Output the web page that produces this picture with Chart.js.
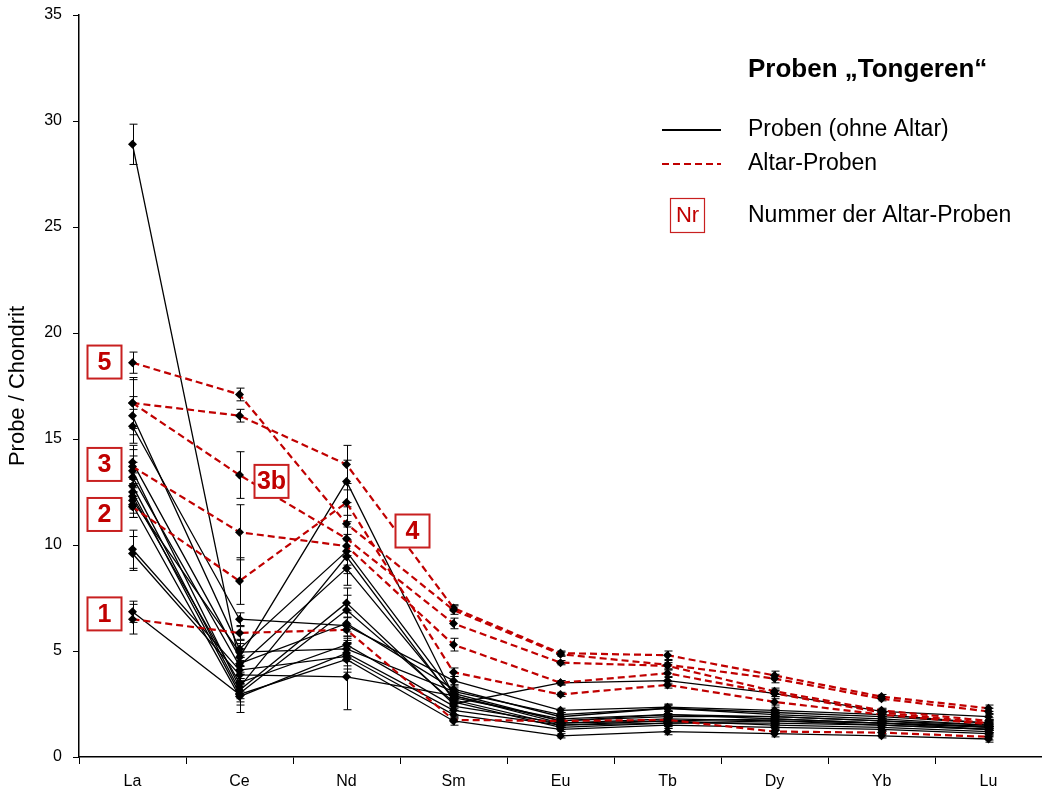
<!DOCTYPE html>
<html>
<head>
<meta charset="utf-8">
<title>Proben „Tongeren“</title>
<script src="https://cdn.jsdelivr.net/npm/chart.js@4.4.1/dist/chart.umd.min.js"></script>
<style>
  html, body { margin: 0; padding: 0; background: #fff; }
  #wrap { width: 1042px; height: 793px; }
</style>
</head>
<body>
<div id="wrap"><canvas id="ree" width="1042" height="793"></canvas></div>
<script>
// Rare-earth elements, chondrite-normalised
const elements = ['La', 'Ce', 'Nd', 'Sm', 'Eu', 'Tb', 'Dy', 'Yb', 'Lu'];
const yTicks = [0, 5, 10, 15, 20, 25, 30, 35];

// Altar samples (red, dashed) with their measurement uncertainty
const altar5   = [18.6, 17.1, 11.0, 6.93, 4.85, 4.35, 3.70, 2.75, 2.15];
const altar5E  = [0.5, 0.3, 0.8, 0.2, 0.1, 0.2, 0.2, 0.1, 0.15];
const altar4   = [16.7, 16.1, 13.8, 7.03, 4.90, 4.80, 3.85, 2.85, 2.30];
const altar4E  = [1.2, 0.3, 0.9, 0.15, 0.1, 0.2, 0.2, 0.1, 0.15];
const altar3b  = [16.7, 13.3, 10.3, 6.30, 4.45, 4.30, 3.10, 2.20, 1.70];
const altar3bE = [1.1, 1.1, 0.8, 0.25, 0.1, 0.15, 0.15, 0.1, 0.15];
const altar3   = [13.7, 10.6, 9.95, 5.30, 3.50, 3.95, 3.00, 2.10, 1.60];
const altar3E  = [0.8, 1.3, 0.9, 0.3, 0.1, 0.15, 0.15, 0.1, 0.15];
const altar2   = [11.8, 8.3, 12.0, 4.00, 2.95, 3.40, 2.60, 2.00, 1.55];
const altar2E  = [0.5, 1.1, 0.6, 0.2, 0.1, 0.15, 0.15, 0.1, 0.15];
const altar1   = [6.5, 5.85, 6.0, 1.75, 1.70, 1.75, 1.20, 1.15, 0.95];
const altar1E  = [0.7, 0.3, 0.6, 0.1, 0.1, 0.1, 0.1, 0.1, 0.15];

// Other samples (black, solid) with their measurement uncertainty
const probe01  = [28.9, 4.4, 6.3, 3.2, 1.9, 2.3, 2.0, 1.8, 1.5];
const probe01E = [0.95, 0.4, 0.6, 0.2, 0.1, 0.15, 0.15, 0.1, 0.15];
const probe02  = [16.1, 5.1, 9.7, 3.0, 1.7, 1.9, 1.9, 1.7, 1.4];
const probe02E = [0.9, 0.4, 0.8, 0.2, 0.1, 0.15, 0.15, 0.1, 0.15];
const probe03  = [15.6, 6.5, 6.2, 3.6, 2.2, 2.35, 2.2, 2.0, 1.6];
const probe03E = [0.8, 0.3, 0.6, 0.2, 0.1, 0.15, 0.15, 0.1, 0.15];
const probe04  = [13.9, 4.7, 13.0, 2.9, 1.6, 1.8, 1.7, 1.6, 1.4];
const probe04E = [0.8, 0.4, 1.0, 0.2, 0.1, 0.15, 0.15, 0.1, 0.15];
const probe05  = [13.5, 3.3, 9.45, 2.7, 1.5, 1.7, 1.8, 1.6, 1.3];
const probe05E = [0.7, 0.4, 0.8, 0.2, 0.1, 0.15, 0.15, 0.1, 0.15];
const probe06  = [13.2, 4.3, 8.9, 2.8, 1.8, 2.0, 1.9, 1.7, 1.5];
const probe06E = [0.7, 0.4, 0.8, 0.2, 0.1, 0.15, 0.15, 0.1, 0.15];
const probe07  = [12.8, 3.15, 7.27, 2.5, 3.5, 3.6, 3.0, 2.15, 1.9];
const probe07E = [0.6, 0.4, 0.7, 0.2, 0.1, 0.15, 0.15, 0.1, 0.15];
const probe08  = [12.5, 3.0, 6.93, 2.6, 1.4, 1.6, 1.6, 1.5, 1.3];
const probe08E = [0.6, 0.4, 0.7, 0.2, 0.1, 0.15, 0.15, 0.1, 0.15];
const probe09  = [12.3, 3.5, 5.3, 2.4, 1.6, 1.7, 1.5, 1.4, 1.2];
const probe09E = [0.6, 0.4, 0.6, 0.2, 0.1, 0.15, 0.15, 0.1, 0.15];
const probe10  = [12.1, 4.95, 5.1, 3.1, 2.0, 2.3, 2.1, 1.9, 1.6];
const probe10E = [0.6, 0.4, 0.6, 0.2, 0.1, 0.15, 0.15, 0.1, 0.15];
const probe11  = [11.9, 2.85, 4.9, 2.2, 1.5, 1.6, 1.7, 1.5, 1.3];
const probe11E = [0.6, 0.75, 0.6, 0.2, 0.1, 0.15, 0.15, 0.1, 0.15];
const probe12  = [9.8, 4.1, 4.75, 2.0, 1.3, 1.5, 1.4, 1.3, 1.1];
const probe12E = [0.9, 0.4, 0.6, 0.2, 0.1, 0.15, 0.15, 0.1, 0.15];
const probe13  = [9.6, 3.87, 3.78, 2.9, 1.7, 2.0, 1.8, 1.6, 1.45];
const probe13E = [0.8, 0.4, 1.55, 0.2, 0.1, 0.15, 0.15, 0.1, 0.15];
const probe14  = [6.85, 2.95, 4.6, 1.7, 1.0, 1.2, 1.1, 1.0, 0.85];
const probe14E = [0.5, 0.5, 0.6, 0.2, 0.1, 0.15, 0.15, 0.1, 0.15];

// Numbered tags for the altar samples, anchored to an element and a value
const altarTags = [
  { text: '5',  el: 'La', v: 18.63, dx: -28 },
  { text: '3',  el: 'La', v: 13.8,  dx: -28 },
  { text: '2',  el: 'La', v: 11.44, dx: -28 },
  { text: '1',  el: 'La', v: 6.75,  dx: -28 },
  { text: '3b', el: 'Ce', v: 13.0,  dx: 32 },
  { text: '4',  el: 'Nd', v: 10.66, dx: 66 }
];

const FONT = 'Liberation Sans, Arial, Helvetica, sans-serif';
const RED = '#c00000';

const altarSeries = [
  [altar5, altar5E], [altar4, altar4E], [altar3b, altar3bE],
  [altar3, altar3E], [altar2, altar2E], [altar1, altar1E]
];
const probeSeries = [
  [probe01, probe01E], [probe02, probe02E], [probe03, probe03E], [probe04, probe04E],
  [probe05, probe05E], [probe06, probe06E], [probe07, probe07E], [probe08, probe08E],
  [probe09, probe09E], [probe10, probe10E], [probe11, probe11E], [probe12, probe12E],
  [probe13, probe13E], [probe14, probe14E]
];

function lineSet(vals, errs, altar) {
  return {
    data: vals,
    errors: errs,
    borderColor: altar ? RED : '#000',
    borderWidth: altar ? 2.2 : 1.3,
    borderDash: altar ? [7, 4] : [],
    pointStyle: 'rectRot',
    pointRadius: 4.5,
    pointBackgroundColor: '#000',
    pointBorderColor: '#000',
    pointBorderWidth: 0,
    tension: 0,
    fill: false,
    clip: false,
    order: altar ? 0 : 1
  };
}

const datasets = [
  ...altarSeries.map(([v, e]) => lineSet(v, e, true)),
  ...probeSeries.map(([v, e]) => lineSet(v, e, false))
];

// Vertical error bars with caps, drawn from each dataset's "errors" array
const errorBars = {
  id: 'errorBars',
  beforeDatasetsDraw(chart) {
    const { ctx, scales: { x, y } } = chart;
    ctx.save();
    ctx.strokeStyle = '#000';
    ctx.lineWidth = 1;
    chart.data.datasets.forEach(ds => {
      ds.data.forEach((v, i) => {
        const e = ds.errors[i];
        const px = Math.round(x.getPixelForValue(i)) + 0.5;
        const top = y.getPixelForValue(v + e);
        const bot = y.getPixelForValue(v - e);
        ctx.beginPath();
        ctx.moveTo(px, top); ctx.lineTo(px, bot);
        ctx.moveTo(px - 4, top); ctx.lineTo(px + 4, top);
        ctx.moveTo(px - 4, bot); ctx.lineTo(px + 4, bot);
        ctx.stroke();
      });
    });
    ctx.restore();
  }
};

// Boxed sample numbers next to the altar curves
const tagBoxes = {
  id: 'tagBoxes',
  afterDatasetsDraw(chart) {
    const { ctx, scales: { x, y } } = chart;
    ctx.save();
    altarTags.forEach(t => {
      const cx = x.getPixelForValue(elements.indexOf(t.el)) + t.dx;
      const cy = y.getPixelForValue(t.v);
      const w = 34, h = 33;
      ctx.fillStyle = '#fff';
      ctx.fillRect(cx - w / 2, cy - h / 2, w, h);
      ctx.strokeStyle = '#c82020';
      ctx.lineWidth = 2;
      ctx.strokeRect(cx - w / 2, cy - h / 2, w, h);
      ctx.fillStyle = RED;
      ctx.font = 'bold 25px ' + FONT;
      ctx.textAlign = 'center';
      ctx.textBaseline = 'middle';
      ctx.fillText(t.text, cx, cy + 1);
    });
    ctx.restore();
  }
};

// Legend block in the upper right
const legendBlock = {
  id: 'legendBlock',
  afterDraw(chart) {
    const ctx = chart.ctx;
    ctx.save();
    ctx.textAlign = 'left';
    ctx.textBaseline = 'middle';
    ctx.fillStyle = '#000';
    ctx.font = 'bold 26px ' + FONT;
    ctx.fillText('Proben \u201ETongeren\u201C', 748, 70);

    ctx.font = '23px ' + FONT;
    ctx.strokeStyle = '#000';
    ctx.lineWidth = 2;
    ctx.beginPath(); ctx.moveTo(662, 130); ctx.lineTo(721, 130); ctx.stroke();
    ctx.fillText('Proben (ohne Altar)', 748, 130);

    ctx.strokeStyle = RED;
    ctx.lineWidth = 2.2;
    ctx.setLineDash([7, 4]);
    ctx.beginPath(); ctx.moveTo(662, 164); ctx.lineTo(721, 164); ctx.stroke();
    ctx.setLineDash([]);
    ctx.fillText('Altar-Proben', 748, 164);

    ctx.strokeStyle = '#c82020';
    ctx.lineWidth = 1.2;
    ctx.strokeRect(670.5, 198.5, 34, 34);
    ctx.fillStyle = RED;
    ctx.textAlign = 'center';
    ctx.font = '22px ' + FONT;
    ctx.fillText('Nr', 687.5, 216);
    ctx.fillStyle = '#000';
    ctx.textAlign = 'left';
    ctx.font = '23px ' + FONT;
    ctx.fillText('Nummer der Altar-Proben', 748, 216);
    ctx.restore();
  }
};

new Chart(document.getElementById('ree'), {
  type: 'line',
  data: { labels: elements, datasets },
  options: {
    responsive: false,
    animation: false,
    devicePixelRatio: 1,
    layout: { autoPadding: false, padding: { top: 15, right: 0, bottom: 0, left: 0 } },
    plugins: { legend: { display: false }, tooltip: { enabled: false } },
    scales: {
      x: {
        type: 'category',
        offset: true,
        grid: { offset: true, drawOnChartArea: false, tickLength: 7, color: '#000', lineWidth: 1 },
        border: { color: '#000', width: 1.5 },
        ticks: { color: '#000', font: { family: FONT, size: 16 }, padding: 8, maxRotation: 0 },
        afterFit(s) { s.height = 36; s.paddingLeft = 0; s.paddingRight = 0; }
      },
      y: {
        min: 0, max: 35,
        afterBuildTicks(s) { s.ticks = yTicks.map(v => ({ value: v })); },
        grid: { drawOnChartArea: false, tickLength: 6, color: '#000', lineWidth: 1 },
        border: { color: '#000', width: 1.5 },
        ticks: { color: '#000', font: { family: FONT, size: 16 }, padding: 11 },
        title: { display: true, text: 'Probe / Chondrit', color: '#000', font: { family: FONT, size: 22 }, padding: { top: 5, bottom: 0 } },
        afterFit(s) { s.width = 79; s.paddingTop = 0; s.paddingBottom = 0; }
      }
    }
  },
  plugins: [errorBars, tagBoxes, legendBlock]
});
</script>
</body>
</html>
